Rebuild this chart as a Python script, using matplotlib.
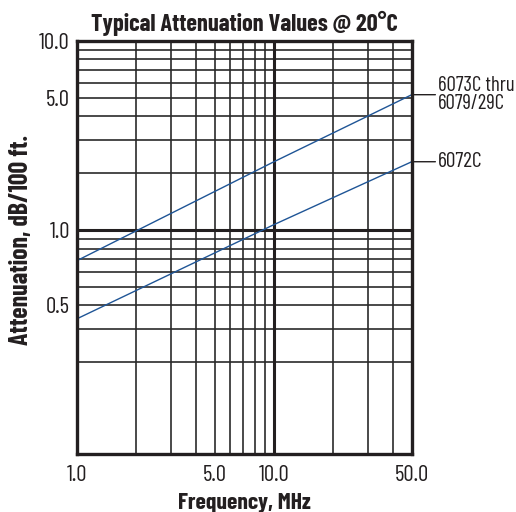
import numpy as np
import matplotlib.pyplot as plt
from matplotlib.ticker import FixedLocator, NullFormatter

plt.rcParams['font.family'] = ['Barlow Condensed', 'DejaVu Sans']

# attenuation (dB/100 ft) at 1, 10 and 50 MHz
freq = [1.0, 10.0, 50.0]
att_6073c = [0.69, 2.3, 5.2]
att_6072c = [0.34, 1.07, 2.3]

x_tick_vals = [1, 5, 10, 50]
x_tick_labels = ['1.0', '5.0', '10.0', '50.0']
# the original prints "0.5" on the 0.4 grid line
y_tick_vals = [0.4, 1, 5, 10]
y_tick_labels = ['0.5', '1.0', '5.0', '10.0']

x_grid = [2, 3, 4, 5, 6, 7, 8, 9, 20, 30, 40]
y_grid = [0.2, 0.3, 0.4, 0.5, 0.6, 0.7, 0.8, 0.9, 2, 3, 4, 5, 6, 7, 8, 9]

ink = '#231f20'
blue = '#1f5596'

fig = plt.figure(figsize=(5.16, 5.12), dpi=100)
ax = fig.add_axes([0.149, 0.113, 0.649, 0.807])
ax.set_xscale('log')
ax.set_yscale('log')
ax.set_xlim(1, 50)
ax.set_ylim(0.0655, 10)

for v in x_grid:
    ax.axvline(v, color='#2a2a2a', lw=1.2, zorder=1)
for v in y_grid:
    ax.axhline(v, color='#2a2a2a', lw=1.2, zorder=1)
ax.axvline(10, color=ink, lw=2.2, zorder=1)
ax.axhline(1, color=ink, lw=2.2, zorder=1)

ax.plot(freq, att_6073c, color=blue, lw=1.0, zorder=3)
ax.plot(freq, att_6072c, color=blue, lw=1.0, zorder=3)

ax.xaxis.set_major_locator(FixedLocator(x_tick_vals))
ax.set_xticklabels(x_tick_labels)
ax.xaxis.set_minor_locator(FixedLocator([]))
ax.xaxis.set_minor_formatter(NullFormatter())
ax.yaxis.set_major_locator(FixedLocator(y_tick_vals))
ax.set_yticklabels(y_tick_labels)
ax.yaxis.set_minor_locator(FixedLocator([]))
ax.yaxis.set_minor_formatter(NullFormatter())
ax.tick_params(length=0, labelsize=16.5, colors=ink)
ax.tick_params(axis='x', pad=8)
ax.tick_params(axis='y', pad=5)

for s in ax.spines.values():
    s.set_linewidth(2.4)
    s.set_color(ink)
    s.set_zorder(4)

ax.set_title('Typical Attenuation Values @ 20°C', fontsize=17.5, fontweight='bold',
             color=ink, pad=7)
ax.set_xlabel('Frequency, MHz', fontsize=17, fontweight='bold', color=ink, labelpad=5)
ax.set_ylabel('Attenuation, dB/100 ft.', fontsize=18.5, fontweight='bold', color=ink)
ax.yaxis.set_label_coords(-0.131, 0.518)

ax.annotate('6073C thru\n6079/29C', xy=(freq[-1], att_6073c[-1]), xytext=(19, 0),
            textcoords='offset points', va='center', ha='left', fontsize=15,
            color=ink, linespacing=0.95, annotation_clip=False,
            arrowprops=dict(arrowstyle='-', color=ink, lw=1.0, shrinkA=0, shrinkB=0))
ax.annotate('6072C', xy=(freq[-1], att_6072c[-1]), xytext=(19, 0),
            textcoords='offset points', va='center', ha='left', fontsize=15.5,
            color=ink, annotation_clip=False,
            arrowprops=dict(arrowstyle='-', color=ink, lw=1.0, shrinkA=0, shrinkB=0))

fig.savefig('out.png', dpi=100)
